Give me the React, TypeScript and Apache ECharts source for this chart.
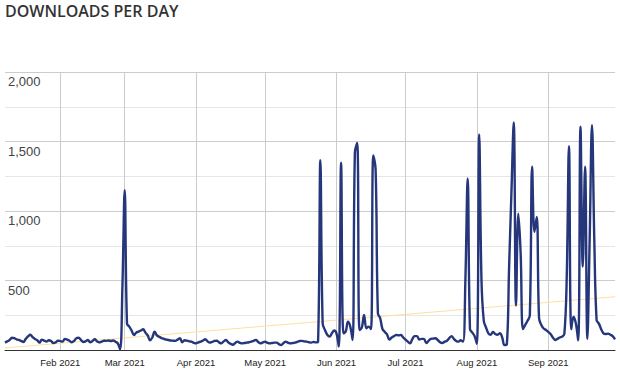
import React, { useEffect, useRef } from "react";
import * as echarts from "echarts";

const TITLE = "DOWNLOADS PER DAY";
const START_DATE = "2021-01-08";
const MONTHS = ["Jan", "Feb", "Mar", "Apr", "May", "Jun", "Jul", "Aug", "Sep", "Oct", "Nov", "Dec"];

const downloads = [
  53, 62, 72, 88, 85, 77, 72, 65, 58, 80, 98, 110, 92, 80, 70, 53, 75, 68, 60, 70,
  65, 50, 55, 67, 64, 60, 80, 75, 67, 55, 65, 85, 88, 72, 58, 62, 72, 55, 65, 77,
  62, 55, 60, 67, 66, 68, 65, 68, 60, 48, 5, 450, 1150, 190, 168, 140, 108, 125, 132, 140,
  149, 125, 105, 70, 90, 132, 105, 95, 86, 80, 75, 72, 68, 67, 66, 75, 84, 55, 70, 68,
  62, 60, 52, 48, 55, 60, 68, 77, 62, 53, 58, 65, 67, 55, 48, 62, 72, 55, 45, 38,
  50, 60, 52, 48, 50, 53, 56, 60, 66, 72, 58, 48, 54, 60, 52, 48, 50, 53, 53, 42,
  36, 50, 60, 52, 48, 50, 53, 58, 65, 66, 62, 60, 56, 53, 58, 55, 60, 1366, 190, 144,
  110, 96, 120, 140, 120, 24, 1347, 120, 132, 204, 168, 72, 1420, 1490, 144, 160, 252, 156, 168, 150,
  1400, 1300, 264, 228, 150, 130, 110, 75, 90, 100, 108, 105, 108, 90, 75, 60, 48, 80, 100, 100,
  75, 80, 80, 50, 65, 80, 82, 84, 72, 55, 50, 60, 67, 85, 100, 80, 65, 60, 70, 60,
  500, 1234, 150, 125, 100, 45, 1551, 500, 210, 160, 120, 110, 130, 115, 110, 120, 90, 35, 40, 600,
  1130, 1637, 320, 980, 700, 150, 180, 210, 250, 1318, 850, 958, 230, 180, 155, 144, 130, 115, 90, 72,
  80, 90, 96, 115, 500, 1467, 150, 240, 190, 70, 1606, 600, 1318, 80, 800, 1618, 800, 216, 190, 150,
  120, 115, 118, 110, 100, 77,
];

const trendStart = 15;
const trendEnd = 383;

const yTicks = [0, 500, 1000, 1500, 2000];

function buildDates(start: string, n: number): string[] {
  const out: string[] = [];
  const d = new Date(start + "T00:00:00Z");
  for (let i = 0; i < n; i++) {
    const t = new Date(d.getTime() + i * 86400000);
    out.push(t.toISOString().slice(0, 10));
  }
  return out;
}

const dates = buildDates(START_DATE, downloads.length);

const isMonthStart = (_i: number, v: string) => v.slice(8, 10) === "01";

export default function App() {
  const ref = useRef<HTMLDivElement>(null);
  useEffect(() => {
    if (!ref.current) return;
    const chart = echarts.init(ref.current, null, { renderer: "svg" });
    chart.setOption({
      animation: false,
      title: {
        text: TITLE,
        left: 0,
        top: 0,
        padding: [2, 5, 5, 5],
        textStyle: {
          fontFamily: "Open Sans",
          fontWeight: 600,
          fontSize: 16,
          lineHeight: 18,
          color: "#333333",
        },
      },
      grid: { left: 5, right: 5, top: 72, bottom: 27, containLabel: false },
      xAxis: {
        type: "category",
        data: dates,
        boundaryGap: false,
        axisLine: { show: true, lineStyle: { color: "#333333", width: 1 } },
        axisTick: { show: false },
        axisLabel: {
          interval: isMonthStart,
          formatter: (v: string) => MONTHS[parseInt(v.slice(5, 7), 10) - 1] + " " + v.slice(0, 4),
          fontFamily: "Liberation Sans",
          fontSize: 9.5,
          color: "#222222",
          margin: 7,
        },
        splitLine: { show: true, interval: isMonthStart, lineStyle: { color: "#cccccc", width: 1 } },
      },
      yAxis: {
        type: "value",
        min: yTicks[0],
        max: yTicks[yTicks.length - 1],
        interval: 500,
        axisLine: { show: false },
        axisTick: { show: false },
        axisLabel: {
          inside: true,
          margin: 3,
          verticalAlign: "top",
          padding: [3, 0, 0, 0],
          fontFamily: "Liberation Sans",
          fontSize: 13,
          color: "#444444",
          formatter: (v: number) => (v === 0 ? "" : v.toLocaleString("en-US")),
        },
        splitLine: { show: true, lineStyle: { color: "#cccccc", width: 1 } },
        minorTick: { show: false, splitNumber: 2 },
        minorSplitLine: { show: true, lineStyle: { color: "#e6e6e6", width: 1 } },
      },
      series: [
        {
          type: "line",
          data: [
            [0, trendStart],
            [downloads.length - 1, trendEnd],
          ],
          symbol: "none",
          lineStyle: { color: "#fde0a0", width: 1 },
          z: 1,
          silent: true,
        },
        {
          type: "line",
          data: downloads,
          symbol: "none",
          smooth: 0.4,
          lineStyle: { color: "#26367a", width: 2.4 },
          z: 2,
        },
      ],
    });
    return () => chart.dispose();
  }, []);
  return (
    <div
      ref={ref}
      style={{ position: "absolute", left: 0, top: 0, width: 620, height: 377 }}
    />
  );
}
